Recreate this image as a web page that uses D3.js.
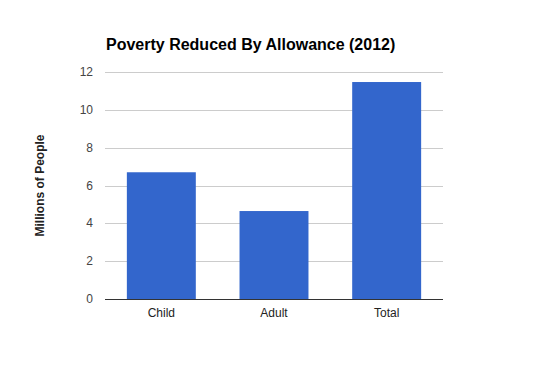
<!DOCTYPE html>
<html>
<head>
<meta charset="utf-8">
<script src="https://cdn.jsdelivr.net/npm/d3@7"></script>
<style>
  body { margin: 0; background: #fff; }
  text { font-family: Arial, "Liberation Sans", sans-serif; }
</style>
</head>
<body>
<svg id="chart" width="549" height="371"></svg>
<script>
const categories = ["Child", "Adult", "Total"];
const values = [6.7, 4.65, 11.47];
const yTicks = [0, 2, 4, 6, 8, 10, 12];

const svg = d3.select("#chart");
const margin = { top: 72, right: 106, bottom: 72, left: 105 };
const width = +svg.attr("width") - margin.left - margin.right;
const height = +svg.attr("height") - margin.top - margin.bottom;

const x = d3.scaleBand()
    .domain(categories)
    .range([0, width])
    .paddingInner(0.388)
    .paddingOuter(0.194);

const y = d3.scaleLinear()
    .domain([0, 12])
    .range([height, 0]);

const g = svg.append("g")
    .attr("transform", "translate(" + margin.left + "," + margin.top + ")");

// gridlines
g.append("g")
    .selectAll("line")
    .data(yTicks.filter(d => d > 0))
    .enter().append("line")
    .attr("x1", 0)
    .attr("x2", width)
    .attr("y1", d => Math.round(y(d)) + 0.5)
    .attr("y2", d => Math.round(y(d)) + 0.5)
    .attr("stroke", "#cccccc");

// y tick labels
g.append("g")
    .selectAll("text")
    .data(yTicks)
    .enter().append("text")
    .attr("x", -12)
    .attr("y", d => y(d) + 4)
    .attr("text-anchor", "end")
    .attr("font-size", 12)
    .attr("fill", "#444")
    .text(d => d);

g.selectAll("rect")
    .data(values)
    .enter().append("rect")
    .attr("x", (d, i) => x(categories[i]))
    .attr("y", d => y(d))
    .attr("width", x.bandwidth())
    .attr("height", d => height - y(d))
    .attr("fill", "#3366cc");

// baseline
g.append("line")
    .attr("x1", 0)
    .attr("x2", width)
    .attr("y1", height + 0.5)
    .attr("y2", height + 0.5)
    .attr("stroke", "#333");

// x labels
g.append("g")
    .selectAll("text")
    .data(categories)
    .enter().append("text")
    .attr("x", d => x(d) + x.bandwidth() / 2)
    .attr("y", height + 18)
    .attr("text-anchor", "middle")
    .attr("font-size", 12)
    .attr("fill", "#222")
    .text(d => d);

svg.append("text")
    .attr("x", 106)
    .attr("y", 50)
    .attr("font-size", 16)
    .attr("font-weight", "bold")
    .attr("fill", "#000")
    .text("Poverty Reduced By Allowance (2012)");

svg.append("text")
    .attr("transform", "translate(44," + (margin.top + height / 2) + ") rotate(-90)")
    .attr("text-anchor", "middle")
    .attr("font-size", 12)
    .attr("font-weight", "bold")
    .attr("fill", "#222")
    .text("Millions of People");
</script>
</body>
</html>
